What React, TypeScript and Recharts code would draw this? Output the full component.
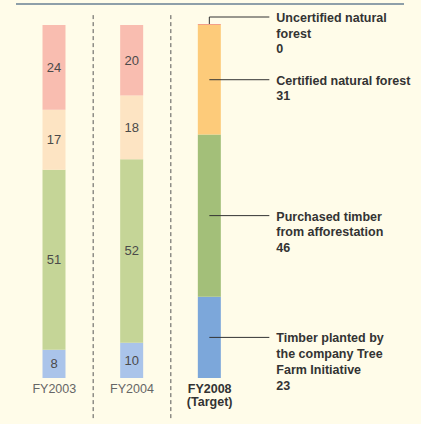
import React from 'react';
import { BarChart, Bar, XAxis, YAxis, Cell, LabelList, ReferenceLine } from 'recharts';

// ---- data ----
const categories = ['FY2003', 'FY2004', 'FY2008'];
const plantedValues = [8, 10, 23];
const afforestationValues = [51, 52, 46];
const certifiedValues = [17, 18, 31];
const uncertifiedValues = [24, 20, 0];

const tickLines = [['FY2003'], ['FY2004'], ['FY2008', '(Target)']];
const annotatedCategory = 'FY2008';

const plantedText = ['Timber planted by', 'the company Tree', 'Farm Initiative'];
const afforestationText = ['Purchased timber', 'from afforestation'];
const certifiedText = ['Certified natural forest'];
const uncertifiedText = ['Uncertified natural', 'forest'];

const data = categories.map((c, i) => ({
  category: c,
  planted: plantedValues[i],
  afforestation: afforestationValues[i],
  certified: certifiedValues[i],
  uncertified: uncertifiedValues[i],
}));

// ---- styles ----
const FONT = '"Liberation Sans", Arial, sans-serif';
const BG = '#FFFCE9';
const plantedColors = ['#AAC4EA', '#AAC4EA', '#7CA7DA'];
const afforestationColors = ['#C5D597', '#C5D597', '#A3BF79'];
const certifiedColors = ['#FDE4C3', '#FDE4C3', '#FDCB7A'];
const uncertifiedColors = ['#F9BDB0', '#F9BDB0', '#F4A088'];

const makeLabel = (lines: string[], kind: 'mid' | 'top') => (props: any) => {
  const x = Number(props.x);
  const w = Number(props.width);
  const rawY = Number(props.y);
  const rawH = Number(props.height);
  const top = Math.min(rawY, rawY + rawH);
  const h = Math.abs(rawH);
  const index = props.index;
  const value = props.value;
  const cx = x + w / 2;
  if (categories[index] !== annotatedCategory) {
    if (!value) return null;
    return (
      <text x={cx} y={top + h / 2} textAnchor="middle" dominantBaseline="central" fontSize={13} fill="#4a4a4a" fontFamily={FONT}>
        {value}
      </text>
    );
  }
  const right = x + w;
  const ly = kind === 'top' ? top - 7 : top + h / 2;
  const allLines = [...lines, String(value)];
  return (
    <g>
      {kind === 'top' ? (
        <polyline points={`${cx},${top} ${cx},${ly} ${right + 48.5},${ly}`} fill="none" stroke="#333" strokeWidth={1} />
      ) : (
        <line x1={cx} y1={ly} x2={right + 48.5} y2={ly} stroke="#333" strokeWidth={1} />
      )}
      <text x={right + 55.5} y={ly + 5} fontSize={12.5} fontWeight="bold" fill="#333" fontFamily={FONT}>
        {allLines.map((l, i) => (
          <tspan key={i} x={right + 55.5} dy={i === 0 ? 0 : 15.7}>
            {l}
          </tspan>
        ))}
      </text>
    </g>
  );
};

const renderTick = (props: any) => {
  const { x, y, payload } = props;
  const idx = categories.indexOf(payload.value);
  const lines = tickLines[idx] || [payload.value];
  const bold = payload.value === annotatedCategory;
  return (
    <text x={x} y={y} textAnchor="middle" fontSize={12.5} fontFamily={FONT} fill={bold ? '#333' : '#666'} fontWeight={bold ? 'bold' : 'normal'}>
      {lines.map((l: string, i: number) => (
        <tspan key={i} x={x} dy={i === 0 ? 15 : 13}>
          {l}
        </tspan>
      ))}
    </text>
  );
};

export default function App() {
  return (
    <div style={{ position: 'absolute', left: 0, top: 0, width: 421, height: 424, background: BG }}>
      <style>{`body{margin:0}`}</style>
      <div style={{ position: 'absolute', left: 16, top: 3, width: 388, height: 2, background: '#8E9FA9' }} />
      <BarChart width={421} height={424} data={data} margin={{ top: 25, right: 172.5, bottom: 16, left: 15.5 }}>
        <XAxis dataKey="category" axisLine={false} tickLine={false} tickSize={0} tickMargin={0} height={30} tick={renderTick} interval={0} />
        <YAxis hide domain={[0, 100]} />
        {categories.slice(0, 2).map((c) => (
          <ReferenceLine
            key={c}
            segment={[{ x: c, y: 102.8 }, { x: c, y: -11.6 }]}
            position="end"
            ifOverflow="visible"
            stroke="#555"
            strokeWidth={1}
            strokeDasharray="4 3"
          />
        ))}
        <Bar dataKey="planted" stackId="a" barSize={23} isAnimationActive={false}>
          {plantedColors.map((col, i) => (
            <Cell key={i} fill={col} />
          ))}
          <LabelList dataKey="planted" content={makeLabel(plantedText, 'mid')} />
        </Bar>
        <Bar dataKey="afforestation" stackId="a" barSize={23} isAnimationActive={false}>
          {afforestationColors.map((col, i) => (
            <Cell key={i} fill={col} />
          ))}
          <LabelList dataKey="afforestation" content={makeLabel(afforestationText, 'mid')} />
        </Bar>
        <Bar dataKey="certified" stackId="a" barSize={23} isAnimationActive={false}>
          {certifiedColors.map((col, i) => (
            <Cell key={i} fill={col} />
          ))}
          <LabelList dataKey="certified" content={makeLabel(certifiedText, 'mid')} />
        </Bar>
        <Bar dataKey="uncertified" stackId="a" barSize={23} minPointSize={1} isAnimationActive={false}>
          {uncertifiedColors.map((col, i) => (
            <Cell key={i} fill={col} />
          ))}
          <LabelList dataKey="uncertified" content={makeLabel(uncertifiedText, 'top')} />
        </Bar>
      </BarChart>
    </div>
  );
}
